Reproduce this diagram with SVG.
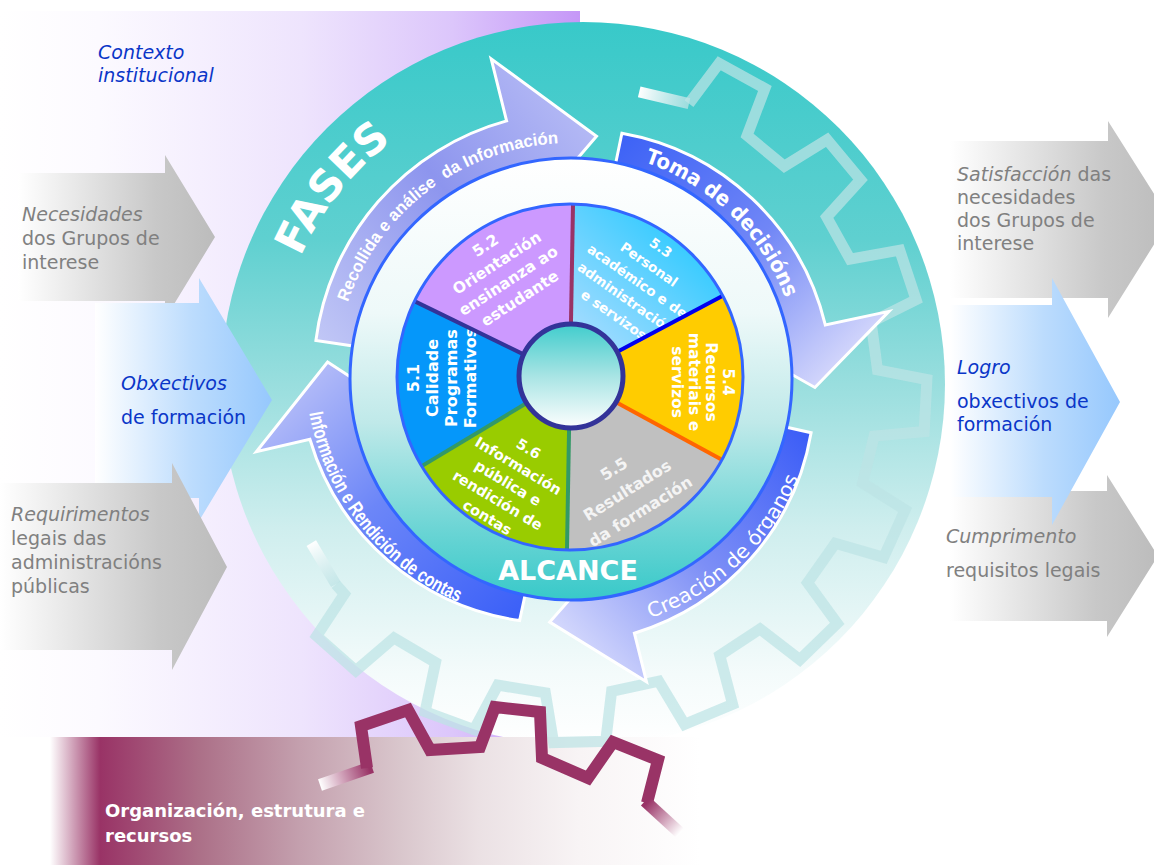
<svg xmlns="http://www.w3.org/2000/svg" width="1154" height="865" viewBox="0 0 1154 865">
<defs>
<style>
.side{font-family:"DejaVu Sans",Verdana,sans-serif;font-size:19px}
.gray{fill:#808080}
.blue{fill:#0a36c8}
.it{font-style:italic}
.seg{font-family:"DejaVu Sans",Verdana,sans-serif;font-weight:bold;fill:#ffffff;text-anchor:middle}
.narrow{font-family:"Liberation Sans",Arial,sans-serif;font-weight:bold;fill:#ffffff}
.round{font-family:"DejaVu Sans",Verdana,sans-serif;fill:#ffffff}
.parr{stroke:#ffffff;stroke-width:3;stroke-linejoin:miter}
.div{stroke-width:4;fill:none}
.gear{fill:none;stroke:#bde3e5;stroke-width:11;stroke-linejoin:miter;stroke-opacity:0.72}
.mgear{fill:none;stroke:#993366;stroke-width:12;stroke-linejoin:miter}
</style>
<linearGradient id="gPurple" gradientUnits="userSpaceOnUse" x1="0" y1="0" x2="580" y2="0">
<stop offset="0" stop-color="#ffffff"/><stop offset="0.17" stop-color="#fcfaff"/><stop offset="0.52" stop-color="#eee4fd"/><stop offset="0.78" stop-color="#dcc6fb"/><stop offset="1" stop-color="#c597f7"/>
</linearGradient>
<linearGradient id="gDisk" gradientUnits="userSpaceOnUse" x1="0" y1="22" x2="0" y2="746">
<stop offset="0" stop-color="#38c9c9"/><stop offset="0.3" stop-color="#5fd0d0"/><stop offset="0.5" stop-color="#99dede"/><stop offset="0.7" stop-color="#cfeeee"/><stop offset="0.9" stop-color="#f4fbfb"/><stop offset="1" stop-color="#ffffff"/>
</linearGradient>
<linearGradient id="gBand" gradientUnits="userSpaceOnUse" x1="50" y1="0" x2="700" y2="0">
<stop offset="0" stop-color="#ffffff"/><stop offset="0.077" stop-color="#993366"/><stop offset="0.23" stop-color="#ac7088"/><stop offset="0.385" stop-color="#c4a0ae"/><stop offset="0.538" stop-color="#d9c6cc"/><stop offset="0.66" stop-color="#ebe1e4"/><stop offset="0.815" stop-color="#f8f4f5"/><stop offset="1" stop-color="#ffffff"/>
</linearGradient>
<linearGradient id="gGray" x1="0" y1="0" x2="1" y2="0">
<stop offset="0" stop-color="#ffffff"/><stop offset="0.7" stop-color="#c8c8c8"/><stop offset="1" stop-color="#bcbcbc"/>
</linearGradient>
<linearGradient id="gBlue" x1="0" y1="0" x2="1" y2="0">
<stop offset="0" stop-color="#ffffff"/><stop offset="0.55" stop-color="#bcdcfd"/><stop offset="1" stop-color="#96c8fd"/>
</linearGradient>
<linearGradient id="gA1" gradientUnits="userSpaceOnUse" x1="316" y1="345" x2="596" y2="120">
<stop offset="0" stop-color="#c2c8f6"/><stop offset="0.55" stop-color="#8d95ee"/><stop offset="1" stop-color="#b6bbf5"/>
</linearGradient>
<linearGradient id="gA2" gradientUnits="userSpaceOnUse" x1="620" y1="130" x2="860" y2="380">
<stop offset="0" stop-color="#3b61f6"/><stop offset="0.5" stop-color="#7086f6"/><stop offset="1" stop-color="#e3e3fc"/>
</linearGradient>
<linearGradient id="gA3" gradientUnits="userSpaceOnUse" x1="810" y1="430" x2="560" y2="660">
<stop offset="0" stop-color="#3a5cf7"/><stop offset="0.5" stop-color="#7d8ff6"/><stop offset="1" stop-color="#dfe1fd"/>
</linearGradient>
<linearGradient id="gA4" gradientUnits="userSpaceOnUse" x1="520" y1="620" x2="290" y2="380">
<stop offset="0" stop-color="#3a5ff8"/><stop offset="0.55" stop-color="#6c86f8"/><stop offset="1" stop-color="#b8bff8"/>
</linearGradient>
<linearGradient id="gRing" gradientUnits="userSpaceOnUse" x1="0" y1="158" x2="0" y2="600">
<stop offset="0" stop-color="#ffffff"/><stop offset="0.35" stop-color="#eef9f9"/><stop offset="0.6" stop-color="#bfe9e9"/><stop offset="0.85" stop-color="#68d4d4"/><stop offset="1" stop-color="#38c9c9"/>
</linearGradient>
<linearGradient id="gHub" gradientUnits="userSpaceOnUse" x1="0" y1="323" x2="0" y2="429">
<stop offset="0" stop-color="#3ecccc"/><stop offset="0.5" stop-color="#a8e4e4"/><stop offset="1" stop-color="#ffffff"/>
</linearGradient>
<linearGradient id="gSeg3" gradientUnits="userSpaceOnUse" x1="700" y1="230" x2="590" y2="350">
<stop offset="0" stop-color="#29c9ff"/><stop offset="1" stop-color="#a6dcff"/>
</linearGradient>
<linearGradient id="gFadeS" gradientUnits="userSpaceOnUse" x1="639" y1="92" x2="689" y2="104">
<stop offset="0" stop-color="#ffffff"/><stop offset="1" stop-color="#bde3e5" stop-opacity="0.72"/>
</linearGradient>
<linearGradient id="gFadeE" gradientUnits="userSpaceOnUse" x1="336" y1="584" x2="311" y2="543">
<stop offset="0" stop-color="#bde3e5" stop-opacity="0.72"/><stop offset="1" stop-color="#ffffff"/>
</linearGradient>
<linearGradient id="gMFadeS" gradientUnits="userSpaceOnUse" x1="320" y1="785" x2="369" y2="768">
<stop offset="0" stop-color="#ffffff"/><stop offset="1" stop-color="#993366"/>
</linearGradient>
<linearGradient id="gMFadeE" gradientUnits="userSpaceOnUse" x1="647" y1="803" x2="680" y2="833">
<stop offset="0" stop-color="#993366"/><stop offset="1" stop-color="#ffffff"/>
</linearGradient>
<path id="pT1" d="M346.6,306.1 A236,236 0 0 1 562.8,143.1"/>
<path id="pT2" d="M641.8,161.2 A229,229 0 0 1 786.2,300.7"/>
<path id="pT3" d="M644.7,620 A250,250 0 0 0 800.9,471.9"/>
<path id="pT4" d="M309,411.2 A257,257 0 0 0 457.5,601.8"/>
<path id="pFases" d="M287.8,290.6 A298,298 0 0 1 422,121"/>
</defs>

<g id="background">
<rect x="0" y="11" width="580" height="726" fill="url(#gPurple)"/>
<circle cx="583" cy="384" r="362" fill="url(#gDisk)"/>
<rect x="50" y="737" width="1104" height="128" fill="url(#gBand)"/>
</g>

<g id="gear-teal">
<polyline class="gear" points="689.0,103.6 719.2,63.3 764.9,88.4 747.1,135.5 784.3,166.2 827.1,139.7 860.5,179.8 826.7,217.1 850.1,259.2 899.7,250.2 916.1,299.7 871.1,322.1 877.5,369.9 926.9,379.5 924.2,431.6 874.1,436.1 862.6,482.9 905.1,509.9 883.6,557.4 835.3,543.3 807.6,582.7 837.2,623.4 799.8,659.7 760.0,628.9 719.8,655.5 732.6,704.2 684.6,724.4 658.7,681.2 611.6,691.3 605.7,741.3 553.6,742.6 545.3,692.9 497.8,685.1 474.1,729.6 425.1,711.7 435.5,662.5 394.0,637.9 355.8,670.6 316.7,636.1 344.3,594.0 335.8,584.3"/>
<line x1="639.2" y1="91.8" x2="689" y2="103.6" stroke="url(#gFadeS)" stroke-width="11"/>
<line x1="335.8" y1="584.3" x2="311.3" y2="543.1" stroke="url(#gFadeE)" stroke-width="11"/>
</g>

<g id="input-necesidades">
<polygon points="18,173 165,173 165,155 215,237 165,319 165,301 18,301" fill="url(#gGray)"/>
<text class="side gray" x="22" y="221"><tspan class="it">Necesidades</tspan></text>
<text class="side gray" x="22" y="245">dos Grupos de</text>
<text class="side gray" x="22" y="269">interese</text>
</g>
<g id="input-obxectivos">
<polygon points="95,303 199,303 199,278 272,400 199,521 199,498 95,498" fill="url(#gBlue)"/>
<text class="side blue it" x="121" y="390">Obxectivos</text>
<text class="side blue" x="121" y="424">de formación</text>
</g>
<g id="input-requirimentos">
<polygon points="0,483 172,483 172,463 227,567 172,670 172,650 0,650" fill="url(#gGray)"/>
<text class="side gray it" x="11" y="521">Requirimentos</text>
<text class="side gray" x="11" y="545">legais das</text>
<text class="side gray" x="11" y="569">administracións</text>
<text class="side gray" x="11" y="593">públicas</text>
</g>
<g id="output-satisfaccion">
<polygon points="950,141 1108,141 1108,121 1170,219 1108,318 1108,298 950,298" fill="url(#gGray)"/>
<text class="side gray" x="957" y="181"><tspan class="it">Satisfacción</tspan> das</text>
<text class="side gray" x="957" y="204">necesidades</text>
<text class="side gray" x="957" y="227">dos Grupos de</text>
<text class="side gray" x="957" y="250">interese</text>
</g>
<g id="output-cumprimento">
<polygon points="950,491 1107,491 1107,475 1158,556 1107,637 1107,621 950,621" fill="url(#gGray)"/>
<text class="side gray it" x="946" y="543">Cumprimento</text>
<text class="side gray" x="946" y="577">requisitos legais</text>
</g>
<g id="output-logro">
<polygon points="950,305 1052,305 1052,278 1120,402 1052,525 1052,497 950,497" fill="url(#gBlue)"/>
<text class="side blue it" x="957" y="374">Logro</text>
<text class="side blue" x="957" y="408">obxectivos de</text>
<text class="side blue" x="957" y="431">formación</text>
</g>

<text id="contexto" class="side blue it"><tspan x="98" y="59">Contexto</tspan><tspan x="98" y="82">institucional</tspan></text>

<g id="phase-creacion">
<path class="parr" fill="url(#gA3)" d="M771.1,423.7 L811.1,432.7 A254,254 0 0 1 634.4,633.2 L646.5,681.7 L549.7,622.1 L613.6,549.8 L620.6,577.9 A205,205 0 0 0 771.1,423.7 Z"/>
<text class="round" font-size="20"><textPath href="#pT3" startOffset="6" textLength="210" lengthAdjust="spacingAndGlyphs">Creación de órganos</textPath></text>
</g>
<g id="phase-informacion">
<path class="parr" fill="url(#gA4)" d="M528.4,579.5 L519.6,620.6 A257,257 0 0 1 309.9,439.3 L256.3,451.7 L327.6,362.0 L410.2,416.1 L371.3,425.1 A205,205 0 0 0 528.4,579.5 Z"/>
<text class="narrow" font-size="20"><textPath href="#pT4" startOffset="2" textLength="250" lengthAdjust="spacingAndGlyphs">Información e Rendición de contas</textPath></text>
</g>
<g id="phase-recollida">
<path class="parr" fill="url(#gA1)" d="M368.3,348.3 L315.9,340.4 A262,262 0 0 1 506.6,120.9 L491.2,58.8 L596.5,136.3 L529.9,214.0 L521.4,180.1 A205,205 0 0 0 368.3,348.3 Z"/>
<text class="narrow" font-size="17" xml:space="preserve"><textPath href="#pT1" startOffset="4" textLength="280" lengthAdjust="spacingAndGlyphs">Recollida e análise  da Información</textPath></text>
</g>
<g id="phase-toma">
<path class="parr" fill="url(#gA2)" d="M612.6,178.3 L621.9,133.2 A255,255 0 0 1 825.3,324.9 L888.9,311.4 L814.9,387.5 L737.3,343.7 L771.5,336.4 A205,205 0 0 0 612.6,178.3 Z"/>
<text class="round" font-size="21" font-weight="bold"><textPath href="#pT2" startOffset="3" textLength="202" lengthAdjust="spacingAndGlyphs">Toma de decisións</textPath></text>
</g>

<text id="fases" class="round" font-size="43" font-weight="bold" text-anchor="middle"><textPath href="#pFases" startOffset="50%">FASES</textPath></text>

<g id="alcance-ring">
<circle cx="571" cy="379" r="221" fill="url(#gRing)" stroke="#3366ff" stroke-width="3"/>
<text class="round" x="568" y="580" font-size="27" font-weight="bold" text-anchor="middle">ALCANCE</text>
</g>

<g id="pie">
<g id="seg-5-1">
<path d="M570,377 L414.5,301.2 A173,173 0 0 0 421.7,466.1 Z" fill="#0597fa"/>
<g class="seg" font-size="16" transform="translate(441.75,378) rotate(-90)">
<text x="0" y="-22.8">5.1</text><text x="0" y="-3.8">Calidade</text><text x="0" y="15.2">Programas</text><text x="0" y="34.2">Formativos</text>
</g>
</g>
<g id="seg-5-2">
<path d="M570,377 L414.5,301.2 A173,173 0 0 1 573.0,204.0 Z" fill="#cc99ff"/>
<g class="seg" font-size="15.5" transform="translate(502.5,271.75) rotate(-33)">
<text x="0" y="-26">5.2</text><text x="0" y="-5">Orientación</text><text x="0" y="16">ensinanza ao</text><text x="0" y="37">estudante</text>
</g>
</g>
<g id="seg-5-3">
<path d="M570,377 L573.0,204.0 A173,173 0 0 1 722.8,295.8 Z" fill="url(#gSeg3)"/>
<g class="seg" font-size="13.5" transform="translate(637.5,281) rotate(35)">
<text x="0" y="-36">5.3</text><text x="0" y="-15.5">Personal</text><text x="0" y="5">académico e de</text><text x="0" y="25.5">administración</text><text x="0" y="46">e servizos</text>
</g>
</g>
<g id="seg-5-4">
<path d="M570,377 L722.8,295.8 A173,173 0 0 1 721.9,459.8 Z" fill="#ffcc00"/>
<g class="seg" font-size="15.5" transform="translate(702.5,382) rotate(90)">
<text x="0" y="-20">5.4</text><text x="0" y="-3">Recursos</text><text x="0" y="14">materiais e</text><text x="0" y="31">servizos</text>
</g>
</g>
<g id="seg-5-5">
<path d="M570,377 L721.9,459.8 A173,173 0 0 1 567.0,550.0 Z" fill="#c0c0c0"/>
<g class="seg" font-size="16" transform="translate(627,490) rotate(-32)">
<text x="0" y="-19.2" fill="#f4f4f4">5.5</text><text x="0" y="5.8" fill="#f4f4f4">Resultados</text><text x="0" y="30.8" fill="#f4f4f4">da formación</text>
</g>
</g>
<g id="seg-5-6">
<path d="M570,377 L567.0,550.0 A173,173 0 0 1 421.7,466.1 Z" fill="#99cc00"/>
<g class="seg" font-size="14.5" transform="translate(508,483) rotate(31)">
<text x="0" y="-34.8">5.6</text><text x="0" y="-14.8">Información</text><text x="0" y="5.2">pública e</text><text x="0" y="25.2">rendición de</text><text x="0" y="45.2">contas</text>
</g>
</g>
<g id="dividers">
<line class="div" x1="527.1" y1="402.8" x2="422.6" y2="465.6" stroke="#339966"/>
<line class="div" x1="525.1" y1="355.1" x2="415.4" y2="301.6" stroke="#333399" stroke-width="5"/>
<line class="div" x1="570.9" y1="327.0" x2="573.0" y2="205.0" stroke="#993366"/>
<line class="div" x1="614.1" y1="353.5" x2="721.9" y2="296.3" stroke="#0000ee"/>
<line class="div" x1="613.9" y1="400.9" x2="721.0" y2="459.3" stroke="#ff6600"/>
<line class="div" x1="569.1" y1="427.0" x2="567.0" y2="549.0" stroke="#339966"/>
</g>
<circle cx="570" cy="377" r="173" fill="none" stroke="#3366ff" stroke-width="3"/>
<circle id="hub" cx="571" cy="376" r="52" fill="url(#gHub)" stroke="#333399" stroke-width="5"/>
</g>

<g id="organizacion">
<text class="round" font-size="18" font-weight="bold"><tspan x="105" y="817">Organización, estrutura e</tspan><tspan x="105" y="842">recursos</tspan></text>
</g>

<g id="gear-maroon">
<line x1="320" y1="785" x2="372" y2="767" stroke="url(#gMFadeS)" stroke-width="12"/>
<polyline class="mgear" points="367,768 361,726 408,710 430,750 480,747 495,707 540,712 542,758 588,778 613,742 658,760 647,803"/>
<line x1="645" y1="801" x2="680" y2="833" stroke="url(#gMFadeE)" stroke-width="12"/>
</g>
</svg>
